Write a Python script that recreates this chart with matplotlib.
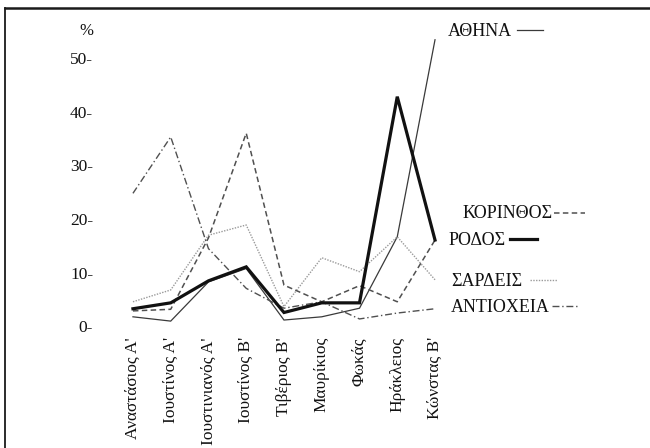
import matplotlib
matplotlib.use('Agg')
import matplotlib.pyplot as plt
from matplotlib.lines import Line2D

plt.rcParams['font.family'] = ['Liberation Serif', 'DejaVu Serif']

# === DATA (%) ===
emperors = ["Αναστάσιος Α'", "Ιουστίνος Α'", "Ιουστινιανός Α'", "Ιουστίνος Β'",
            "Τιβέριος Β'", "Μαυρίκιος", "Φωκάς", "Ηράκλειος", "Κώνστας Β'"]
athina = [1.8, 1.0, 8.3, 10.8, 1.2, 1.8, 3.4, 16.7, 53.4]
rodos = [3.3, 4.4, 8.5, 11.1, 2.6, 4.4, 4.4, 42.8, 16.1]
korinthos = [2.9, 3.2, 16.5, 36.0, 7.7, 4.6, 7.6, 4.6, 16.1]
sardeis = [4.6, 6.8, 17.0, 18.9, 3.7, 12.8, 10.2, 16.7, 8.7]
antiocheia = [24.8, 35.3, 14.5, 7.1, 3.4, 4.6, 1.4, 2.5, 3.3]
yticks = [0, 10, 20, 30, 40, 50]

TXT = '#111111'
W, H = 650, 448
fig = plt.figure(figsize=(W / 100, H / 100), dpi=100)
fig.patch.set_facecolor('white')
ax = fig.add_axes([0.1755, 0.2473, 0.5228, 0.6951])
ax.set_facecolor('none')

x = list(range(len(emperors)))
styles = {
    'athina': dict(color='#3a3a3a', lw=0.9, ls='-'),
    'rodos': dict(color='#111111', lw=2.3, ls='-'),
    'korinthos': dict(color='#505050', lw=1.1, ls=(0, (3.6, 2.2))),
    'sardeis': dict(color='#9a9a9a', lw=1.0, ls=(0, (1, 1))),
    'antiocheia': dict(color='#505050', lw=1.0, ls=(0, (5, 2, 1, 2))),
}
series = [('athina', athina), ('sardeis', sardeis), ('korinthos', korinthos),
          ('antiocheia', antiocheia), ('rodos', rodos)]
for key, vals in series:
    ax.plot(x, vals, solid_joinstyle='miter', **styles[key])

ax.set_xlim(-0.5, 8.5)
ax.set_ylim(-2, 56)
for s in ax.spines.values():
    s.set_visible(False)
ax.set_yticks(yticks)
ax.set_yticklabels([f'{v}-' for v in yticks], fontsize=12.5, color=TXT)
ax.set_xticks(x)
ax.set_xticklabels(emperors, rotation=90, fontsize=12.5, color=TXT)
ax.tick_params(axis='y', length=0, pad=15)
ax.tick_params(axis='x', length=0, pad=0)

fig.text(86.7 / W, 1 - 31 / H, '%', fontsize=12, ha='center', va='center', color=TXT)

# right-hand labels with line samples (figure pixels)
labels = [
    ('ΑΘΗΝΑ', 448, 31, 'athina', 517, 543),
    ('ΚΟΡΙΝΘΟΣ', 463, 214, 'korinthos', 554, 585),
    ('ΡΟΔΟΣ', 449, 240, 'rodos', 510, 537),
    ('ΣΑΡΔΕΙΣ', 451, 281, 'sardeis', 530, 557),
    ('ΑΝΤΙΟΧΕΙΑ', 451, 307, 'antiocheia', 552, 578),
]
for txt, lx, ly, key, x0, x1 in labels:
    fig.text(lx / W, 1 - ly / H, txt, fontsize=13, ha='left', va='center', color=TXT)
    st = styles[key]
    fig.add_artist(Line2D([x0 / W, x1 / W], [1 - (ly - 1) / H, 1 - (ly - 1) / H],
                          transform=fig.transFigure, color=st['color'],
                          lw=st['lw'], ls=st['ls']))

# frame: top and left rules
fig.add_artist(Line2D([5 / W, 1], [1 - 8 / H, 1 - 8 / H], transform=fig.transFigure,
                      color='#1a1a1a', lw=1.8))
fig.add_artist(Line2D([5 / W, 5 / W], [0, 1 - 8 / H], transform=fig.transFigure,
                      color='#1a1a1a', lw=1.3))

fig.savefig('out.png', dpi=100, facecolor='white')
